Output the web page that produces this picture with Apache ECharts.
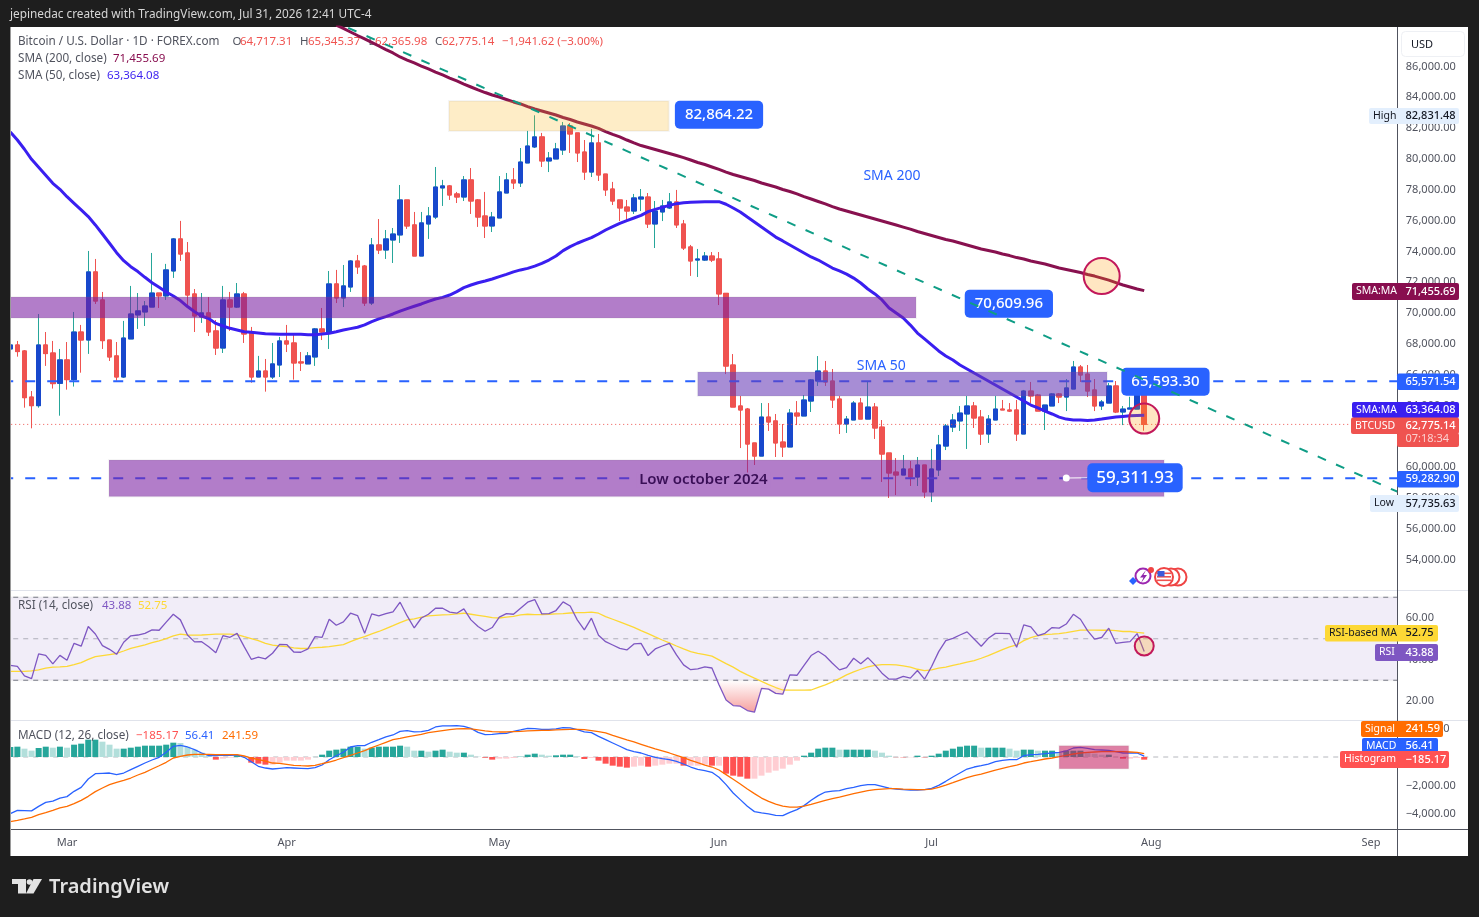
<!DOCTYPE html>
<html><head><meta charset="utf-8">
<style>html,body{margin:0;padding:0;background:#1e1e1e;overflow:hidden}#c{width:1479px;height:917px}</style>
<script src="https://cdn.jsdelivr.net/npm/echarts@6/dist/echarts.min.js"></script>
</head><body><div id="c"></div>
<script>
/* ---------- DATA ---------- */
const opens=[67670,67930,67540,64550,63990,67930,67410,65440,66960,65680,
68770,68250,72670,70850,68250,67220,65850,68320,69880,70070,
70390,71300,71110,72730,74810,73900,71240,69750,70010,68840,
67730,70850,70390,71240,68710,65850,66240,65850,66630,68190,
68060,66830,66700,67150,68970,68770,71890,70980,71690,73380,
73050,70650,74420,74090,74740,75070,77340,75720,73700,75780,
76230,78120,78250,77730,77530,78640,77340,76300,75650,76170,
77790,78640,78440,79740,80780,81430,79870,80000,80580,82140,
81690,80450,79150,81040,79020,78050,77340,76880,76620,77400,
77530,75780,76560,76820,77210,75780,74290,73440,73440,73700,
73510,71280,66630,63970,63770,61570,60720,63250,63000,61630,
61310,63510,63320,64290,65590,66240,65590,64420,62800,63060,
64160,63120,63900,62600,60920,59680,59490,59880,59360,60140,
58390,59820,61370,62600,63000,63450,63970,63250,62150,63060,
63770,63710,63710,62150,64940,64680,63640,63970,64750,64550,
65070,66500,66040,65010,63970,64160,65270,63580,63770,63770,
64717.31];
const highs=[68640,68190,67600,64940,69940,68770,68190,67670,68120,70070,
69230,74030,73510,71370,68250,68120,69490,71760,71300,70780,
73900,71300,73190,74870,75980,74610,71560,71300,71040,69550,
71760,71370,71950,71370,69100,67220,67020,68060,68450,69230,
68580,67470,67470,69030,70330,72730,72800,73120,73440,73770,
73120,74870,76100,75390,75520,78310,77340,76560,76560,76880,
79480,78640,78310,77860,78890,79410,77400,77860,76560,78890,
79090,79410,80710,81820,82831.48,81690,80450,81040,82400,82330,
81690,81230,81940,81620,79020,78510,77340,77340,77730,78050,
77790,77270,77340,77790,77990,76040,74420,74160,73960,73960,
73960,71280,67340,64620,63840,61570,64160,64160,63450,62800,
63770,64290,64680,65720,67210,66890,66370,64620,63320,64290,
64490,65530,64160,63060,60920,60590,60790,60400,60660,60140,
61180,62090,62800,63450,63970,64620,64230,63710,63380,64620,
64360,64160,64360,65010,65530,64750,64030,64810,64810,65720,
66890,66630,66630,65720,64360,65460,65590,63970,64570,64900,
65345.37];
const lows=[67670,67170,63860,62520,63860,66570,65100,63340,65030,65230,
66130,67350,70590,67670,66890,65610,65790,68320,68970,69160,
70390,70330,70850,72280,73380,70520,68770,69360,68510,67280,
67410,68840,70330,68060,65480,65850,64900,65720,65850,67470,
65680,66240,66700,66570,68250,67670,70650,70390,71370,72540,
70460,70520,73830,73510,73250,74550,75460,73700,73700,74810,
76100,76950,77340,77140,77270,76430,75590,74870,75260,76170,
77790,78050,78180,79740,80710,79480,79150,80000,80260,80390,
79800,78640,78830,78570,77600,77010,75970,76040,76430,76620,
75520,74220,75970,76750,75520,74090,72410,72340,73380,73310,
70520,66040,63900,61240,59560,60140,60720,62350,60660,60660,
61310,62730,63320,63580,65270,65270,63840,62150,62220,63060,
63120,63120,61830,59040,58000,58190,59490,58780,58780,58000,
57735.63,59430,61110,62280,62350,61180,62540,61440,61570,63060,
63710,63580,61700,62150,64160,63640,62410,63970,64160,63640,
65070,65530,64550,63640,63710,64160,63510,62730,63770,63770,
62365.98];
const closes=[67930,67500,64510,63990,67930,67370,65420,66960,65680,68770,
68250,72670,70780,68210,67150,65850,68380,69940,70140,70460,
71300,71110,72800,74810,73830,71170,69810,70010,68770,67730,
70850,70390,71240,68640,65850,66240,65850,66700,68190,67990,
66760,66760,67220,68970,68770,71890,70980,71760,73380,72990,
70650,74420,74090,74810,75130,77340,75650,73700,75850,76300,
78180,78250,77660,77530,78640,77270,76230,75650,76230,77860,
78640,78440,79800,80840,81430,79870,80060,80650,82140,81620,
80390,79150,81040,78960,77990,77270,76820,76620,77470,77530,
75780,76620,76950,77210,75720,74220,73380,73510,73700,73440,
71240,66560,63900,63710,61500,60720,63250,62930,61570,61310,
63510,63320,64360,65660,66240,65530,64360,62800,63120,64160,
63120,63900,62540,60850,59620,59490,59880,59360,60140,58390,
59880,61440,62670,63060,63510,63970,63190,62150,63120,63770,
63710,63640,62150,64940,64620,63640,64030,64750,64550,65140,
66500,65980,64940,63970,64230,65270,63580,63770,63840,64717,
62775.14];
const sma50=[81750,81230,80630,79980,79460,78940,78420,78030,77550,77120,
76690,76260,75720,75130,74530,73920,73400,73010,72690,72320,
71970,71670,71370,71110,70810,70420,70090,69810,69640,69330,
69160,69010,68900,68790,68750,68710,68660,68640,68620,68620,
68620,68620,68600,68600,68640,68690,68790,68900,68990,69080,
69230,69440,69620,69770,69940,70130,70290,70440,70590,70760,
70910,71020,71170,71390,71650,71820,71970,72080,72210,72360,
72510,72670,72800,72900,73050,73230,73440,73700,74050,74310,
74530,74720,74890,75130,75390,75610,75820,76000,76170,76340,
76580,76730,76860,76990,77100,77160,77190,77210,77220,77230,
77230,77060,76820,76560,76230,75910,75580,75260,74930,74680,
74420,74160,73900,73640,73440,73180,72920,72730,72530,72270,
71950,71560,71240,70850,70330,70000,69680,69220,68700,68320,
67930,67540,67210,66950,66630,66370,66110,65850,65590,65330,
65070,64810,64550,64290,64030,63840,63640,63450,63250,63120,
63060,63060,63030,63060,63120,63190,63250,63290,63330,63350,
63364.08];
const sma200Visible=[88690,88470,88240,88010,
87790,87560,87330,87100,86880,86620,86420,86230,86030,85840,
85640,85450,85250,85060,84860,84670,84480,84310,84150,84020,
83860,83700,83570,83400,83240,83110,82980,82850,82690,82560,
82400,82270,82140,81980,81780,81590,81430,81230,81040,80870,
80740,80610,80480,80350,80220,80090,79930,79770,79640,79480,
79320,79150,78990,78860,78730,78600,78440,78310,78180,78020,
77890,77730,77560,77400,77240,77080,76910,76750,76620,76490,
76360,76230,76100,75970,75840,75710,75580,75450,75290,75160,
75030,74900,74770,74680,74550,74420,74290,74160,74060,73960,
73830,73730,73600,73510,73380,73280,73180,73050,72920,72830,
72730,72630,72500,72400,72270,72140,71980,71820,71690,71560,
71455.69];
const rsi=[37.2,36.7,32.1,30.8,42.7,42.0,37.9,42.0,39.6,47.8,
46.4,55.9,52.3,46.7,44.9,42.5,48.3,51.4,51.8,52.6,
54.3,54.1,58.0,61.8,59.1,51.8,48.5,48.6,46.1,43.3,
51.5,50.7,52.6,46.2,40.1,41.1,40.3,43.0,47.3,47.2,
43.6,43.5,45.1,51.0,50.7,59.4,56.5,58.1,62.3,61.2,
52.6,62.0,61.0,62.1,62.9,67.6,61.0,55.2,60.0,61.8,
64.7,64.7,62.8,62.3,64.4,59.1,55.9,53.6,55.4,60.4,
62.1,61.8,64.7,67.6,68.9,62.0,62.1,63.6,67.8,65.8,
59.1,54.3,59.9,51.7,48.6,47.0,45.4,44.6,47.5,47.8,
41.9,45.1,46.5,47.8,42.2,37.4,35.1,35.5,36.4,35.9,
27.8,20.5,17.8,17.5,15.4,14.6,26.1,25.7,23.7,23.3,
32.6,32.4,37.2,41.9,44.0,41.7,38.2,35.0,36.1,40.6,
38.0,40.9,37.4,33.4,30.5,30.5,31.9,31.0,34.7,30.5,
36.6,43.8,49.1,50.2,51.8,53.3,49.9,46.4,50.2,52.6,
52.6,52.5,45.9,56.7,55.7,51.5,52.6,55.4,55.1,57.1,
61.8,59.4,53.9,49.8,50.6,55.1,47.8,48.3,48.6,52.5,
43.88];
const rsiMA=[34.3,34.3,34.3,34.5,35.0,35.8,36.3,36.4,36.7,37.5,
38.5,40.1,41.4,41.9,42.4,42.9,44.1,45.4,46.2,47.0,
48.1,49.0,50.1,51.4,52.2,51.8,51.7,51.8,52.0,52.2,
52.2,52.2,52.0,51.0,50.1,49.1,47.8,46.9,46.5,46.2,
45.6,45.3,45.4,45.7,45.9,46.2,46.7,47.2,48.6,49.9,
51.0,52.3,53.5,54.9,56.3,57.8,59.1,59.6,60.4,61.0,
61.3,61.5,61.6,62.0,62.3,61.8,61.3,60.8,60.2,60.0,
60.4,60.8,61.5,61.8,61.6,61.6,61.8,62.0,62.1,62.4,
62.6,62.6,62.8,62.3,60.7,59.4,58.1,56.8,55.5,53.9,
52.5,50.9,49.4,48.0,46.5,45.1,43.8,43.0,42.4,41.6,
39.8,38.0,36.3,34.3,32.6,31.0,29.5,27.9,26.5,25.3,
25.2,25.2,25.2,25.3,26.6,27.8,29.2,30.8,32.6,34.0,
35.3,36.4,37.2,37.5,37.5,37.4,36.9,36.3,35.3,34.6,
35.0,35.8,36.3,37.2,37.9,38.7,39.5,40.6,41.9,43.3,
44.8,46.1,47.0,49.1,50.5,51.5,52.0,52.2,52.5,53.0,
53.6,54.2,54.2,54.2,54.1,54.2,53.9,53.5,53.5,53.1,
52.75];
const histogram=[699,722,583,443,629,722,652,722,652,862,
932,1212,1212,1072,862,583,583,652,722,792,
792,792,862,1002,979,722,513,303,93,-186,
-116,-47,117,47,-396,-466,-536,-536,-396,-256,
-256,-256,-186,5,163,443,513,583,722,722,
583,652,722,722,722,792,722,443,443,373,
443,513,373,303,303,163,23,-47,-186,-116,
-116,-70,23,163,233,163,93,117,163,163,
47,-140,-70,-256,-466,-606,-676,-746,-676,-606,
-676,-606,-536,-466,-466,-606,-606,-606,-536,-606,
-606,-1165,-1305,-1375,-1515,-1515,-1305,-1095,-955,-816,
-536,-256,93,303,583,652,652,513,513,513,
513,513,443,303,93,-12,-23,-23,93,-23,
93,233,443,583,722,792,792,652,652,652,
652,583,443,513,513,443,443,443,303,443,
443,443,303,233,163,163,5,-116,-116,-70,
-185.17];
const macdLine=[-3960,-3730,-3750,-3770,-3450,-3170,-3080,-2870,-2770,-2400,
-2120,-1540,-1165,-1140,-1120,-1235,-1120,-885,-650,-420,
-210,-20,330,750,815,700,510,280,90,90,
140,120,140,-20,-330,-650,-770,-840,-790,-750,
-770,-790,-815,-750,-560,-190,90,330,700,790,
790,1030,1210,1400,1540,1790,1840,1750,1770,1860,
2100,2170,2170,2190,2140,2000,1720,1560,1580,1630,
1650,1790,1890,2000,1980,1930,1930,1960,2050,2030,
1910,1750,1700,1440,1210,980,750,510,370,280,
120,-20,-120,-190,-300,-490,-700,-860,-960,-1070,
-1420,-1930,-2520,-2980,-3450,-3820,-3910,-3980,-4080,-4100,
-3870,-3680,-3400,-3030,-2700,-2450,-2380,-2350,-2210,-2120,
-2000,-1930,-1930,-2050,-2170,-2240,-2280,-2310,-2310,-2280,
-2190,-1980,-1700,-1400,-1120,-840,-700,-610,-490,-330,
-230,-190,-190,90,160,190,230,280,330,420,
630,680,610,510,490,470,370,280,280,280,
56.41];
const signalLine=[-4520,-4430,-4330,-4220,-4030,-3890,-3730,-3560,-3450,-3260,
-3030,-2750,-2420,-2170,-1930,-1770,-1630,-1470,-1260,-1070,
-840,-610,-370,-70,50,140,190,190,190,160,
160,160,160,70,-70,-190,-280,-420,-440,-510,
-580,-610,-630,-580,-470,-350,-210,-50,120,280,
440,650,840,1030,1210,1300,1400,1490,1580,1700,
1770,1840,1910,1960,1980,1960,1890,1820,1770,1750,
1750,1770,1790,1820,1840,1860,1860,1890,1910,1930,
1930,1910,1840,1770,1680,1510,1350,1190,1050,890,
720,560,420,280,120,-50,-230,-400,-560,-700,
-910,-1230,-1560,-1890,-2240,-2560,-2870,-3100,-3290,-3430,
-3500,-3500,-3430,-3310,-3170,-3030,-2910,-2800,-2680,-2560,
-2450,-2350,-2280,-2240,-2210,-2210,-2240,-2260,-2280,-2280,
-2240,-2120,-1960,-1790,-1610,-1440,-1300,-1190,-1050,-910,
-790,-680,-560,-420,-330,-230,-140,-70,20,120,
210,280,330,350,370,370,370,370,350,330,
241.59];
const firstDays={8:'Mar',39:'Apr',69:'May',100:'Jun',130:'Jul',161:'Aug',192:'Sep'};
const categoryCount=196;
const priceTicks={min:52000,max:88563,step:2000};
// index-space annotations: [fromIndex,toIndex,lowPrice,highPrice]
const zoneHighBand=[-1,127.8,69678,71041];
const zoneLowBand=[13.93,162.8,58093,60462];
const zoneMidBand=[97,154.75,64616,66173];
const zoneHighlight=[61.9,92.9,81814,83761];
const macdHighlight=[148,157.8,-816,792];
const trendLine=[[45.1,89031],[197,58150]];
const level65571=65571.54, level59282=59282.90, lastPrice=62775.14;
const priceCallouts=[[100,82864.22,'82,864.22'],[140.9,70609.96,'70,609.96'],[163,65540,'65,593.30']];
const bigCallout=[158.7,59311.93,'59,311.93'];
const textNotes=[[124.4,78894,'SMA 200'],[122.9,66560,'SMA 50']];
const lowNote=[97.8,59164,'Low october 2024'];
const dotLink=[[149,59295],[152,59311]];
const circlesPrice=[[154,72404],[160,63150]];
const circleRsi=[160,46.5];

/* ---------- STYLE ---------- */
const FONT='"Noto Sans", sans-serif';
const N=categoryCount, band=7.087, gridLeft=10.3-band/2, gridW=N*band;
const cats=Array.from({length:N},(_,i)=>String(i));
const fmt=v=>{const s=Math.abs(v).toLocaleString('en-US',{minimumFractionDigits:2,maximumFractionDigits:2});return (v<0?'\u2212':'')+s;};
const ohlcFull=opens.map((o,i)=>[o,closes[i],lows[i],highs[i]]);
const ohlcBody=opens.map((o,i)=>[o,closes[i],Math.min(o,closes[i]),Math.max(o,closes[i])]);
const sma200=Array(46).fill(null).concat(sma200Visible);
const histColors=histogram.map((v,i)=>{const p=i?histogram[i-1]:0;return v>=0?(v>=p?'#26a69a':'#b2dfdb'):(v<p?'#ff5252':'#ffcdd2');});

// area below RSI 30 (between crossing points)
const oversold=[];
rsi.forEach((v,i)=>{
  if(i&&(rsi[i-1]-30)*(v-30)<0&&i>90&&i<115){oversold.push([i-1+(rsi[i-1]-30)/(rsi[i-1]-v),30]);}
  if(v<30&&i>90&&i<115)oversold.push([i,v]);
});

const hLine=(name,xi,yi,y,color,type,width,z)=>({type:'line',name,xAxisIndex:xi,yAxisIndex:yi,data:[[-1,y],[N,y]],symbol:'none',silent:true,z,lineStyle:{color,type,width}});
const rectRender=fills=>(p,api)=>{
  const a=api.coord([api.value(0),api.value(3)]),b=api.coord([api.value(1),api.value(2)]);
  return {type:'rect',shape:{x:a[0],y:a[1],width:b[0]-a[0],height:b[1]-a[1]},style:{fill:fills[p.dataIndex],stroke:'rgba(120,120,120,0.07)',lineWidth:2}};
};
const zoneSeries=(xi,yi,rows,fills,z)=>({type:'custom',xAxisIndex:xi,yAxisIndex:yi,silent:true,clip:true,z,data:rows,encode:{x:[0,1],y:[2,3]},renderItem:rectRender(fills)});
const calloutLabel=(fs,pad)=>({show:true,position:'inside',color:'#fff',fontFamily:FONT,fontSize:fs,fontWeight:500,backgroundColor:'#2962ff',borderRadius:5,padding:pad,formatter:p=>p.data[2]});
const hidden={color:'transparent',opacity:1};
const ringStyle={color:'rgba(255,152,0,0.24)',borderColor:'#c2185b',borderWidth:2,opacity:1};

const series=[
 {type:'candlestick',name:'wicks',xAxisIndex:0,yAxisIndex:0,barWidth:5,z:2,silent:true,data:ohlcFull,
  itemStyle:{color:'#26a69a',color0:'#ef5350',borderColor:'#26a69a',borderColor0:'#ef5350',borderWidth:1}},
 {type:'candlestick',name:'bodies',xAxisIndex:0,yAxisIndex:0,barWidth:5,z:2,silent:true,data:ohlcBody,
  itemStyle:{color:'#1848cc',color0:'#ef5350',borderColor:'#1848cc',borderColor0:'#ef5350',borderWidth:1}},
 {type:'line',name:'SMA 50',xAxisIndex:0,yAxisIndex:0,data:sma50,symbol:'none',z:3,silent:true,lineStyle:{color:'#3a1ff0',width:3}},
 {type:'line',name:'SMA 200',xAxisIndex:0,yAxisIndex:0,data:sma200,symbol:'none',z:3,silent:true,lineStyle:{color:'#88114f',width:3}},
 hLine('level hi',3,0,level65571,'#2962ff',[10,12],2,3),
 hLine('level lo',3,0,level59282,'#2962ff',[10,12],2,3),
 hLine('last',3,0,lastPrice,'#ef5350',[1,3],1,3),
 zoneSeries(3,0,[zoneHighBand,zoneLowBand],['rgba(123,31,162,0.58)','rgba(123,31,162,0.58)'],5),
 zoneSeries(3,0,[zoneMidBand],['rgba(103,58,183,0.58)'],5),
 zoneSeries(3,0,[zoneHighlight],['rgba(250,180,20,0.24)'],5),
 {type:'scatter',xAxisIndex:0,yAxisIndex:0,data:circlesPrice,symbolSize:(v,p)=>p.dataIndex?30:36,z:6,silent:true,itemStyle:ringStyle},
 {type:'line',xAxisIndex:3,yAxisIndex:0,data:dotLink,symbol:'none',z:6,silent:true,lineStyle:{color:'#fff',width:1}},
 {type:'scatter',xAxisIndex:3,yAxisIndex:0,data:[dotLink[0]],symbolSize:7,z:6,silent:true,itemStyle:{color:'#fff',opacity:1}},
 {type:'scatter',xAxisIndex:3,yAxisIndex:0,data:priceCallouts,symbolSize:1,z:7,silent:true,itemStyle:hidden,label:calloutLabel(15,[7,10,6,10])},
 {type:'scatter',xAxisIndex:3,yAxisIndex:0,data:[bigCallout],symbolSize:1,z:7,silent:true,itemStyle:hidden,label:calloutLabel(17,[6,9,6,9])},
 {type:'line',name:'trend',xAxisIndex:3,yAxisIndex:0,data:trendLine,symbol:'none',z:8,silent:true,lineStyle:{color:'#0f9d86',width:2,type:[9,11]}},
 {type:'scatter',xAxisIndex:3,yAxisIndex:0,data:textNotes,symbolSize:1,z:7,silent:true,itemStyle:hidden,
  label:{show:true,position:'inside',color:'#2962ff',fontFamily:FONT,fontSize:14,formatter:p=>p.data[2]}},
 {type:'scatter',xAxisIndex:3,yAxisIndex:0,data:[lowNote],symbolSize:1,z:7,silent:true,itemStyle:hidden,
  label:{show:true,position:'inside',color:'#3a0f57',fontFamily:FONT,fontSize:15,fontWeight:600,backgroundColor:'#b27dc9',padding:[0,3,0,3],formatter:p=>p.data[2]}},
 // RSI pane
 zoneSeries(4,1,[[-1,N,30,70]],['rgba(126,87,194,0.11)'],1),
 hLine('70',4,1,70,'#787b86',[5,5],1,2),
 hLine('50',4,1,50,'rgba(120,123,134,0.55)',[5,5],1,2),
 hLine('30',4,1,30,'#787b86',[5,5],1,2),
 {type:'line',xAxisIndex:4,yAxisIndex:1,data:oversold,symbol:'none',z:2,silent:true,lineStyle:{opacity:0},
  areaStyle:{origin:30,opacity:1,color:new echarts.graphic.LinearGradient(0,0,0,1,[{offset:0,color:'rgba(239,83,80,0)'},{offset:1,color:'rgba(239,83,80,0.55)'}])}},
 {type:'line',name:'RSI MA',xAxisIndex:1,yAxisIndex:1,data:rsiMA,symbol:'none',z:3,silent:true,lineStyle:{color:'#fdd835',width:1.3}},
 {type:'line',name:'RSI',xAxisIndex:1,yAxisIndex:1,data:rsi,symbol:'none',z:3,silent:true,lineStyle:{color:'#7e57c2',width:1.3}},
 {type:'scatter',xAxisIndex:1,yAxisIndex:1,data:[circleRsi],symbolSize:19,z:6,silent:true,itemStyle:ringStyle},
 // MACD pane
 hLine('zero',5,2,0,'rgba(120,123,134,0.55)',[5,5],1,1),
 {type:'bar',name:'Histogram',xAxisIndex:2,yAxisIndex:2,barWidth:6,z:2,silent:true,
  data:histogram.map((v,i)=>({value:v,itemStyle:{color:histColors[i]}}))},
 {type:'line',name:'MACD',xAxisIndex:2,yAxisIndex:2,data:macdLine,symbol:'none',z:3,silent:true,lineStyle:{color:'#2962ff',width:1.3}},
 {type:'line',name:'Signal',xAxisIndex:2,yAxisIndex:2,data:signalLine,symbol:'none',z:3,silent:true,lineStyle:{color:'#ff6d00',width:1.3}},
 zoneSeries(5,2,[macdHighlight],['rgba(194,24,91,0.55)'],5)
];

/* ---------- FURNITURE ---------- */
const G=[];
const rect=(x,y,w,h,fill,z,r,stroke)=>G.push({type:'rect',z,silent:true,shape:{x,y,width:w,height:h,r:r||0},style:{fill,stroke:stroke||null}});
const txt=(x,y,text,fill,size,z,weight,align)=>G.push({type:'text',z:z||100,silent:true,x,y,style:{text,fill,font:(weight||400)+' '+size+'px '+FONT,verticalAlign:'middle',align:align||'left'}});
rect(10,27,1458,829,'#ffffff',-1);
rect(0,0,10,917,'#1e1e1e',90);
rect(10,27,1,829,'#9a9a9a',91);
// pane separators and scale rule
rect(11,590,1457,1,'#e0e3eb',1);
rect(11,720,1457,1,'#e0e3eb',1);
rect(11,829,1457,1,'#50535e',95);
rect(1397,27,1,829,'#50535e',95);
// header
txt(10,14.5,'jepinedac created with TradingView.com, Jul 31, 2026 12:41 UTC-4','#d6d6d6',11.8);
txt(18,41.5,'Bitcoin / U.S. Dollar \u00b7 1D \u00b7 FOREX.com','#50535e',11.7,1);
const RED='#f05350';
[[232.5,'O','#50535e'],[240,'64,717.31',RED],[300,'H','#50535e'],[308,'65,345.37',RED],[368.5,'L','#50535e'],[375,'62,365.98',RED],[435,'C','#50535e'],[442,'62,775.14',RED],[502,'\u22121,941.62 (\u22123.00%)',RED]]
 .forEach(a=>txt(a[0],41.5,a[1],a[2],11.5,1));
txt(18,59,'SMA (200, close)','#50535e',11.7); txt(113,59,'71,455.69','#880e4f',11.5);
txt(18,76,'SMA (50, close)','#50535e',11.7); txt(107,76,'63,364.08','#3a1ff0',11.5);
txt(18,605.5,'RSI (14, close)','#50535e',11.7); txt(102,605.5,'43.88','#7e57c2',11.5); txt(138,605.5,'52.75','#fdd835',11.5);
txt(18,735.5,'MACD (12, 26, close)','#50535e',11.7); txt(136,735.5,'\u2212185.17','#ff5252',11.5); txt(185,735.5,'56.41','#2962ff',11.5); txt(222,735.5,'241.59','#ff6d00',11.5);
// USD box
rect(1401.5,31.5,63,25,'#fff',96,4,'#eef0f4'); txt(1411,44.5,'USD','#131722',11);
// price tags
const tag=(y0,y1,xL,xR,color,fg,label,value)=>{
  rect(xL,y0,xR-xL,y1-y0,color,98,2);
  if(label)txt(xL+4,(y0+y1)/2,label,fg,10.5,99);
  txt(1405.5,(y0+y1)/2,value,fg,11,99,500);
};
tag(108,124,1369,1459,'#e3effd','#131722','High','82,831.48');
tag(283,300,1352,1459,'#880e4f','#fff','SMA:MA','71,455.69');
tag(373.5,390,1397,1459,'#2962ff','#fff','', '65,571.54');
tag(402,418,1352,1459,'#3a1ff0','#fff','SMA:MA','63,364.08');
tag(417.5,434,1351,1459,'#ef5350','#fff','BTCUSD','62,775.14');
rect(1397,433,62,14,'#ef5350',98,2); txt(1405.5,438.5,'07:18:34','#fbd0cf',11,99);
tag(471,487.5,1397,1459,'#2962ff','#fff','','59,282.90');
tag(495,512,1370,1459,'#e3effd','#131722','Low','57,735.63');
tag(625,641.5,1325,1438,'#fdd835','#131722','RSI-based MA','52.75');
tag(644,661,1375,1438,'#7e57c2','#fff','RSI','43.88');
tag(738,754,1362,1438,'#2962ff','#fff','MACD','56.41');
tag(721,737,1361,1443,'#ff6d00','#fff','Signal','241.59');
tag(751,768,1340,1449,'#ff5252','#fff','Histogram','\u2212185.17');
// event icons
const ring=(x,y,r,fill,stroke,z)=>G.push({type:'circle',z:z||20,silent:true,shape:{cx:x,cy:y,r},style:{fill,stroke,lineWidth:2}});
ring(1178,577,8.5,'#fff','#ef4444',20);ring(1171,577,8.5,'#fff','#ef4444',21);ring(1164,577,9,'#fff','#ef4444',22);
[572.5,576,579.5].forEach(y=>rect(1157,y,14,1.6,'#ef5350',23));
rect(1157.5,571,7,5.5,'#3b5bdb',24);
ring(1143,576,7.5,'#fff','#9c27b0',20);
G.push({type:'polygon',z:21,silent:true,shape:{points:[[1146,570],[1140,577.5],[1143.5,577.5],[1141,583],[1147,575],[1143.5,575]]},style:{fill:'#8e24aa'}});
G.push({type:'polygon',z:22,silent:true,shape:{points:[[1133,577],[1137,581],[1133,585],[1129,581]]},style:{fill:'#2962ff'}});
ring(1151,570,2,'#ef4444','#ef4444',22);
// footer logo
G.push({type:'polygon',z:50,silent:true,shape:{points:[[12,879],[26,879],[26,893.5],[18,893.5],[18,884],[12,884]]},style:{fill:'#e2e2e2'}});
G.push({type:'circle',z:50,silent:true,shape:{cx:29.5,cy:882,r:2.8},style:{fill:'#e2e2e2'}});
G.push({type:'polygon',z:50,silent:true,shape:{points:[[33.5,879],[42,879],[33.5,893.5],[26,893.5]]},style:{fill:'#e2e2e2'}});
txt(49,887.5,'TradingView','#e2e2e2',20,50,600);

/* ---------- AXES ---------- */
const gridTops=[27,576.5,699.8,829];
const gridHeights=[563.44,166,143,1];
const grids=gridTops.map((t,i)=>({left:gridLeft,width:gridW,top:t,height:gridHeights[i],containLabel:false}));
const catAxis=i=>({type:'category',gridIndex:i,data:cats,boundaryGap:true,
  axisLine:{show:false},axisTick:{show:false},splitLine:{show:false},
  axisLabel:i===3?{show:true,margin:7,fontSize:11,fontFamily:FONT,color:'#50535e',interval:(k)=>firstDays[k]!==undefined,formatter:(v)=>firstDays[+v]||''}:{show:false}});
const idxAxis=i=>({type:'value',gridIndex:i,min:-0.5,max:N-0.5,show:false,splitLine:{show:false}});
const yBase={position:'right',axisLine:{show:false},axisTick:{show:false},splitLine:{show:false}};
const lab=(show,extra)=>Object.assign({margin:10,fontSize:11,fontFamily:FONT,color:'#50535e',formatter:v=>show(v)?fmt(v):''},extra||{});
const yAxes=[
 Object.assign({type:'value',gridIndex:0,min:priceTicks.min,max:priceTicks.max,interval:priceTicks.step,axisLabel:lab(v=>v>=54000&&v<=86000&&v%2000===0,{padding:[2,0,0,0]})},yBase),
 Object.assign({type:'value',gridIndex:1,min:0,max:80,interval:20,axisLabel:lab(v=>v>=20&&v<=60,{padding:[2,0,0,0]})},yBase),
 Object.assign({type:'value',gridIndex:2,min:-6000,max:4000,interval:2000,axisLabel:lab(v=>v>=-4000&&v<=2000,{padding:[0,0,3,0]})},yBase),
 {type:'value',gridIndex:3,show:false,min:0,max:1}
];
const option={animation:false,backgroundColor:'#1e1e1e',grid:grids,
 xAxis:[catAxis(0),catAxis(1),catAxis(2),idxAxis(0),idxAxis(1),idxAxis(2),catAxis(3)],
 yAxis:yAxes,series,graphic:{elements:G}};
echarts.init(document.getElementById('c'),null,{renderer:'canvas'}).setOption(option);
</script></body></html>
